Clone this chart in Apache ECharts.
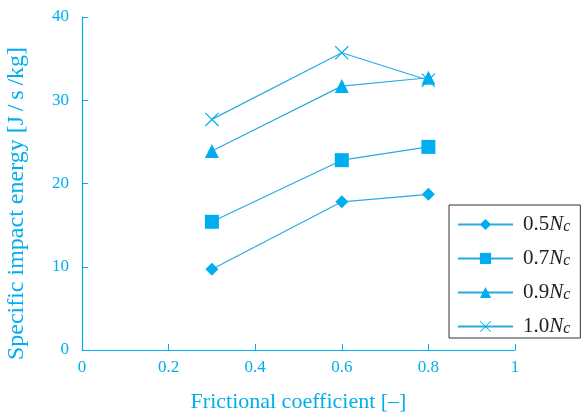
<!DOCTYPE html>
<html>
<head>
<meta charset="utf-8">
<script src="https://cdn.jsdelivr.net/npm/echarts@6/dist/echarts.min.js"></script>
<style>html,body{margin:0;padding:0;background:#fff;}#c{width:582px;height:416px;}</style>
</head>
<body>
<div id="c"></div>
<script>
const xValues = [0.3, 0.6, 0.8];
const s05 = [9.7, 17.8, 18.7];
const s07 = [15.4, 22.8, 24.4];
const s09 = [23.9, 31.7, 32.7];
const s10 = [27.7, 35.7, 32.4];
const seriesNames = ['0.5Nc', '0.7Nc', '0.9Nc', '1.0Nc'];
const legendParts = { '0.5Nc': '0.5', '0.7Nc': '0.7', '0.9Nc': '0.9', '1.0Nc': '1.0' };

const C = '#00aeef';
const LINE = '#29abe2';
const FONT = 'Liberation Serif';
const crossPath = 'path://M0,0.6 L0.6,0 L10,9.4 L9.4,10 Z M9.4,0 L10,0.6 L0.6,10 L0,9.4 Z';

function mk(name, vals, symbol, size) {
  return {
    name: name,
    type: 'line',
    data: xValues.map((x, i) => [x, vals[i]]),
    symbol: symbol,
    symbolSize: size,
    showAllSymbol: true,
    lineStyle: { color: LINE, width: 1.2 },
    itemStyle: { color: C },
    emphasis: { disabled: true },
    z: 3
  };
}

const chart = echarts.init(document.getElementById('c'), null, { renderer: 'canvas' });
chart.setOption({
  animation: false,
  backgroundColor: '#fff',
  grid: { left: 82, right: 67, top: 17, bottom: 66, containLabel: false, outerBoundsMode: 'none' },
  xAxis: {
    type: 'value', min: 0, max: 1, interval: 0.2,
    name: 'Frictional coefficient [\u2013]', nameLocation: 'middle', nameGap: 41,
    nameTextStyle: { color: C, fontFamily: FONT, fontSize: 22 },
    axisLine: { lineStyle: { color: C, width: 1.2 } },
    axisTick: { inside: true, length: 6, lineStyle: { color: C } },
    axisLabel: { color: C, fontFamily: FONT, fontSize: 17, margin: 9 },
    splitLine: { show: false }
  },
  yAxis: {
    type: 'value', min: 0, max: 40, interval: 10,
    name: 'Specific impact energy [J\u2009/\u2009s\u2009/kg]', nameLocation: 'middle', nameGap: 53,
    nameTextStyle: { color: C, fontFamily: FONT, fontSize: 24, padding: [0, 40, 0, 0] },
    axisLine: { lineStyle: { color: C, width: 1.2 } },
    axisTick: { inside: true, length: 6, lineStyle: { color: C } },
    axisLabel: { color: C, fontFamily: FONT, fontSize: 17, margin: 13 },
    splitLine: { show: false }
  },
  legend: {
    orient: 'vertical',
    left: 449, top: 205,
    padding: [9, 10, 1, 8],
    itemWidth: 55, itemHeight: 14, itemGap: 13,
    backgroundColor: '#fff',
    borderColor: '#333', borderWidth: 1,
    data: seriesNames,
    formatter: function (n) { return '{a|' + legendParts[n] + '}{b|N}{c|c}'; },
    textStyle: {
      color: '#222', fontFamily: FONT, fontSize: 21,
      rich: {
        a: { fontFamily: FONT, fontSize: 21, color: '#222', lineHeight: 23, padding: [0, 0, 0, 5] },
        b: { fontFamily: FONT, fontSize: 21, fontStyle: 'italic', color: '#222', lineHeight: 23 },
        c: { fontFamily: FONT, fontSize: 16, fontStyle: 'italic', color: '#222', lineHeight: 23, padding: [5, 0, 0, 0] }
      }
    }
  },
  series: [
    mk('0.5Nc', s05, 'diamond', 13),
    mk('0.7Nc', s07, 'rect', 14),
    mk('0.9Nc', s09, 'triangle', 14),
    mk('1.0Nc', s10, crossPath, 14)
  ]
});
</script>
</body>
</html>
